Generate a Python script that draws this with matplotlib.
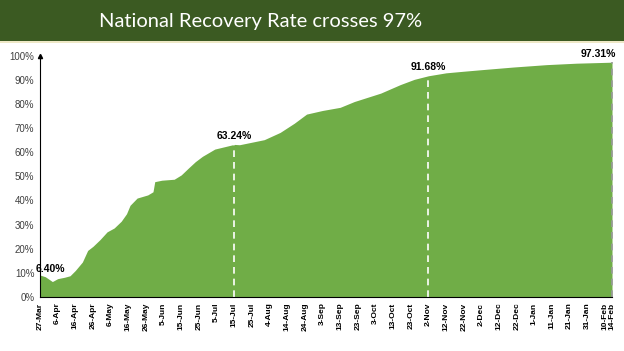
import numpy as np
import pandas as pd
import matplotlib
matplotlib.use("Agg")
import matplotlib.pyplot as plt
from matplotlib.patches import Rectangle

# recovery rate (%)
dates = pd.to_datetime([
    "2020-03-27", "2020-03-30", "2020-04-03", "2020-04-06", "2020-04-10",
    "2020-04-13", "2020-04-16", "2020-04-20", "2020-04-23", "2020-04-26",
    "2020-04-30", "2020-05-04", "2020-05-08", "2020-05-12", "2020-05-15",
    "2020-05-17", "2020-05-21", "2020-05-27", "2020-05-30", "2020-05-31",
    "2020-06-04", "2020-06-11", "2020-06-15", "2020-06-19", "2020-06-23",
    "2020-06-27", "2020-07-04", "2020-07-15", "2020-07-18", "2020-08-01",
    "2020-08-10", "2020-08-18", "2020-08-25", "2020-09-03", "2020-09-13",
    "2020-09-21", "2020-10-06", "2020-10-17", "2020-10-25", "2020-11-02",
    "2020-11-12", "2020-11-21", "2020-12-02", "2020-12-20", "2021-01-08",
    "2021-01-25", "2021-02-14",
])
rate = [
    9.1, 8.4, 6.4, 7.6, 8.2,
    8.8, 11.0, 14.5, 19.3, 21.0,
    23.8, 27.0, 28.6, 31.4, 34.5,
    38.0, 41.0, 42.3, 43.6, 47.8,
    48.4, 48.8, 50.6, 53.4, 56.1,
    58.3, 61.3, 63.24, 63.1, 65.2,
    68.2, 72.0, 75.8, 77.3, 78.6,
    81.0, 84.5, 88.0, 90.2, 91.68,
    92.9, 93.5, 94.2, 95.3, 96.3,
    96.9, 97.31,
]
labelled = {"2020-04-03": "6.40%", "2020-07-15": "63.24%",
            "2020-11-02": "91.68%", "2021-02-14": "97.31%"}
tick_dates = list(pd.date_range("2020-03-27", "2021-02-10", freq="10D")) + [pd.Timestamp("2021-02-14")]

start = dates[0]
days = np.array([(d - start).days for d in dates])
rate = np.array(rate)

fig = plt.figure(figsize=(6.24, 3.51), dpi=100)
fig.patches.append(Rectangle((0, 1 - 41 / 351), 1, 41 / 351, transform=fig.transFigure,
                             facecolor="#3b5a22", edgecolor="none"))
fig.patches.append(Rectangle((0, 1 - 43 / 351), 1, 2 / 351, transform=fig.transFigure,
                             facecolor="#eee8c6", edgecolor="none"))
fig.text(0.418, 1 - 21 / 351, "National Recovery Rate crosses 97%", color="white",
         fontsize=14.5, family="Lato", ha="center", va="center")

ax = fig.add_axes([40 / 624, 1 - 297 / 351, 572 / 624, (297 - 55.7) / 351])
ax.fill_between(days, 0, rate, color="#70ad47", linewidth=0)
ax.set_xlim(0, 324)
ax.set_ylim(0, 100)

# dashed markers
for d, lab in labelled.items():
    x = (pd.Timestamp(d) - start).days
    y = rate[days == x][0]
    if lab == "6.40%":
        ax.text(x - 1, y + 3, lab, fontsize=7.5, fontweight="bold", family="Liberation Sans",
                ha="center", va="bottom")
        continue
    col = "#9a9a9a" if x == 324 else "white"
    ax.plot([x, x], [0, y], ls=(0, (4, 3)), color=col, lw=1.2, clip_on=False)
    ax.text(x if x < 324 else x - 8, y + 1.5, lab, fontsize=7.5, fontweight="bold",
            family="Liberation Sans", ha="center", va="bottom")

ax.spines["top"].set_visible(False)
ax.spines["right"].set_visible(False)
ax.plot([0], [100], marker="^", color="black", ms=3, clip_on=False)
ax.set_yticks(np.arange(0, 101, 10))
ax.set_yticklabels([f"{v}%" for v in range(0, 101, 10)], fontsize=7,
                   family="Liberation Sans", color="#404040")
ax.set_xticks([(t - start).days for t in tick_dates])
ax.set_xticklabels([f"{t.day}-{t.strftime('%b')}" for t in tick_dates], rotation=90,
                   fontsize=6, fontweight="bold", family="Liberation Sans")
ax.tick_params(length=0, pad=4)

fig.savefig("out.png", dpi=100)
